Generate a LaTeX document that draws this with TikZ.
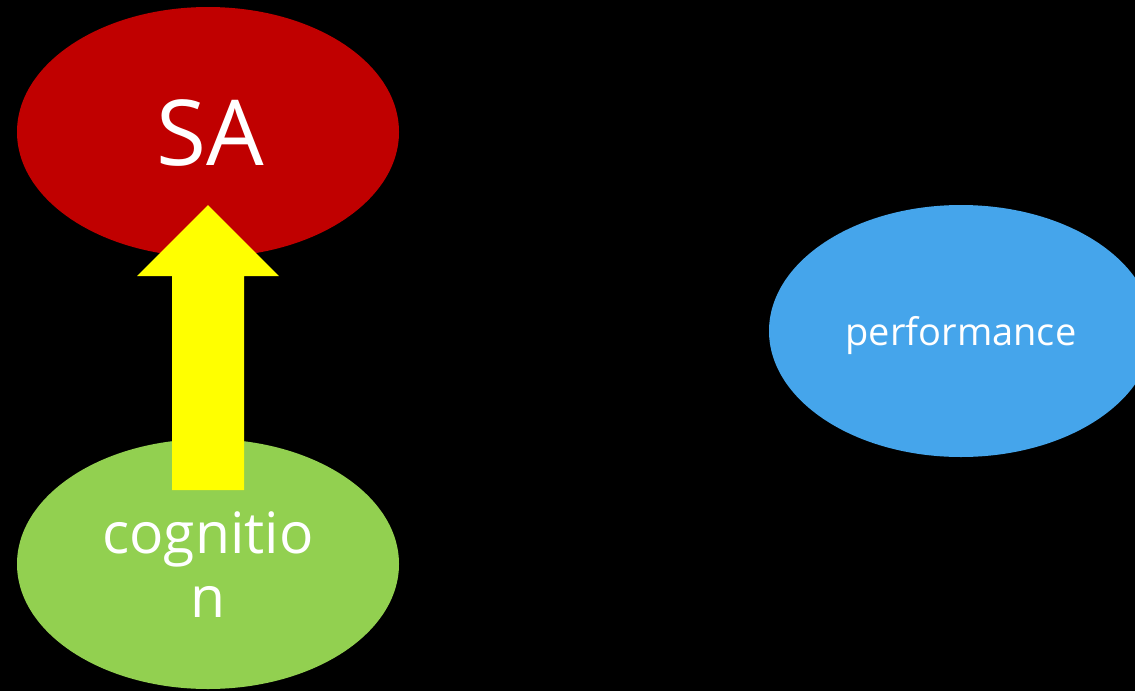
\documentclass[tikz,border=0pt]{standalone}
\usepackage{fontspec}
\setmainfont{Open Sans}
\usetikzlibrary{shapes.geometric}
\definecolor{saRed}{HTML}{C00000}
\definecolor{cogGreen}{HTML}{92D050}
\definecolor{perfBlue}{HTML}{45A5EB}
\definecolor{arrowYellow}{HTML}{FFFF00}
\tikzset{
  blob/.style={ellipse, draw=none, inner sep=0pt, minimum width=382pt, minimum height=250pt},
  word/.style={text=white, inner sep=0pt, anchor=base},
}
\begin{document}
\begin{tikzpicture}[x=1pt,y=-1pt]
  \useasboundingbox (0,0) rectangle (1135,691);
  \fill[black] (0,0) rectangle (1135,691);
  \clip (0,0) rectangle (1135,691);

  % the three concepts
  \node[blob, fill=saRed]    (sa)   at (208,132) {};
  \node[blob, fill=cogGreen] (cog)  at (208,564) {};
  \node[blob, fill=perfBlue, minimum width=384pt, minimum height=252pt] (perf) at (961,331) {};

  % labels
  \node[word, font=\fontsize{91}{100}\selectfont] (saText) at (210,165) {SA};
  \node[word, font=\fontsize{57}{64}\selectfont] (cogText1) at (208,553) {cognitio};
  \node[word, font=\fontsize{57}{64}\selectfont] (cogText2) at (208,617) {n};
  \node[word, font=\fontsize{38}{44}\selectfont] (perfText) at (961,345) {performance};

  % block arrow from cognition up into SA
  \fill[arrowYellow] (172,490) -- (172,276) -- (137,276) -- (208,205)
    -- (279,276) -- (244,276) -- (244,490) -- cycle;
\end{tikzpicture}
\end{document}
